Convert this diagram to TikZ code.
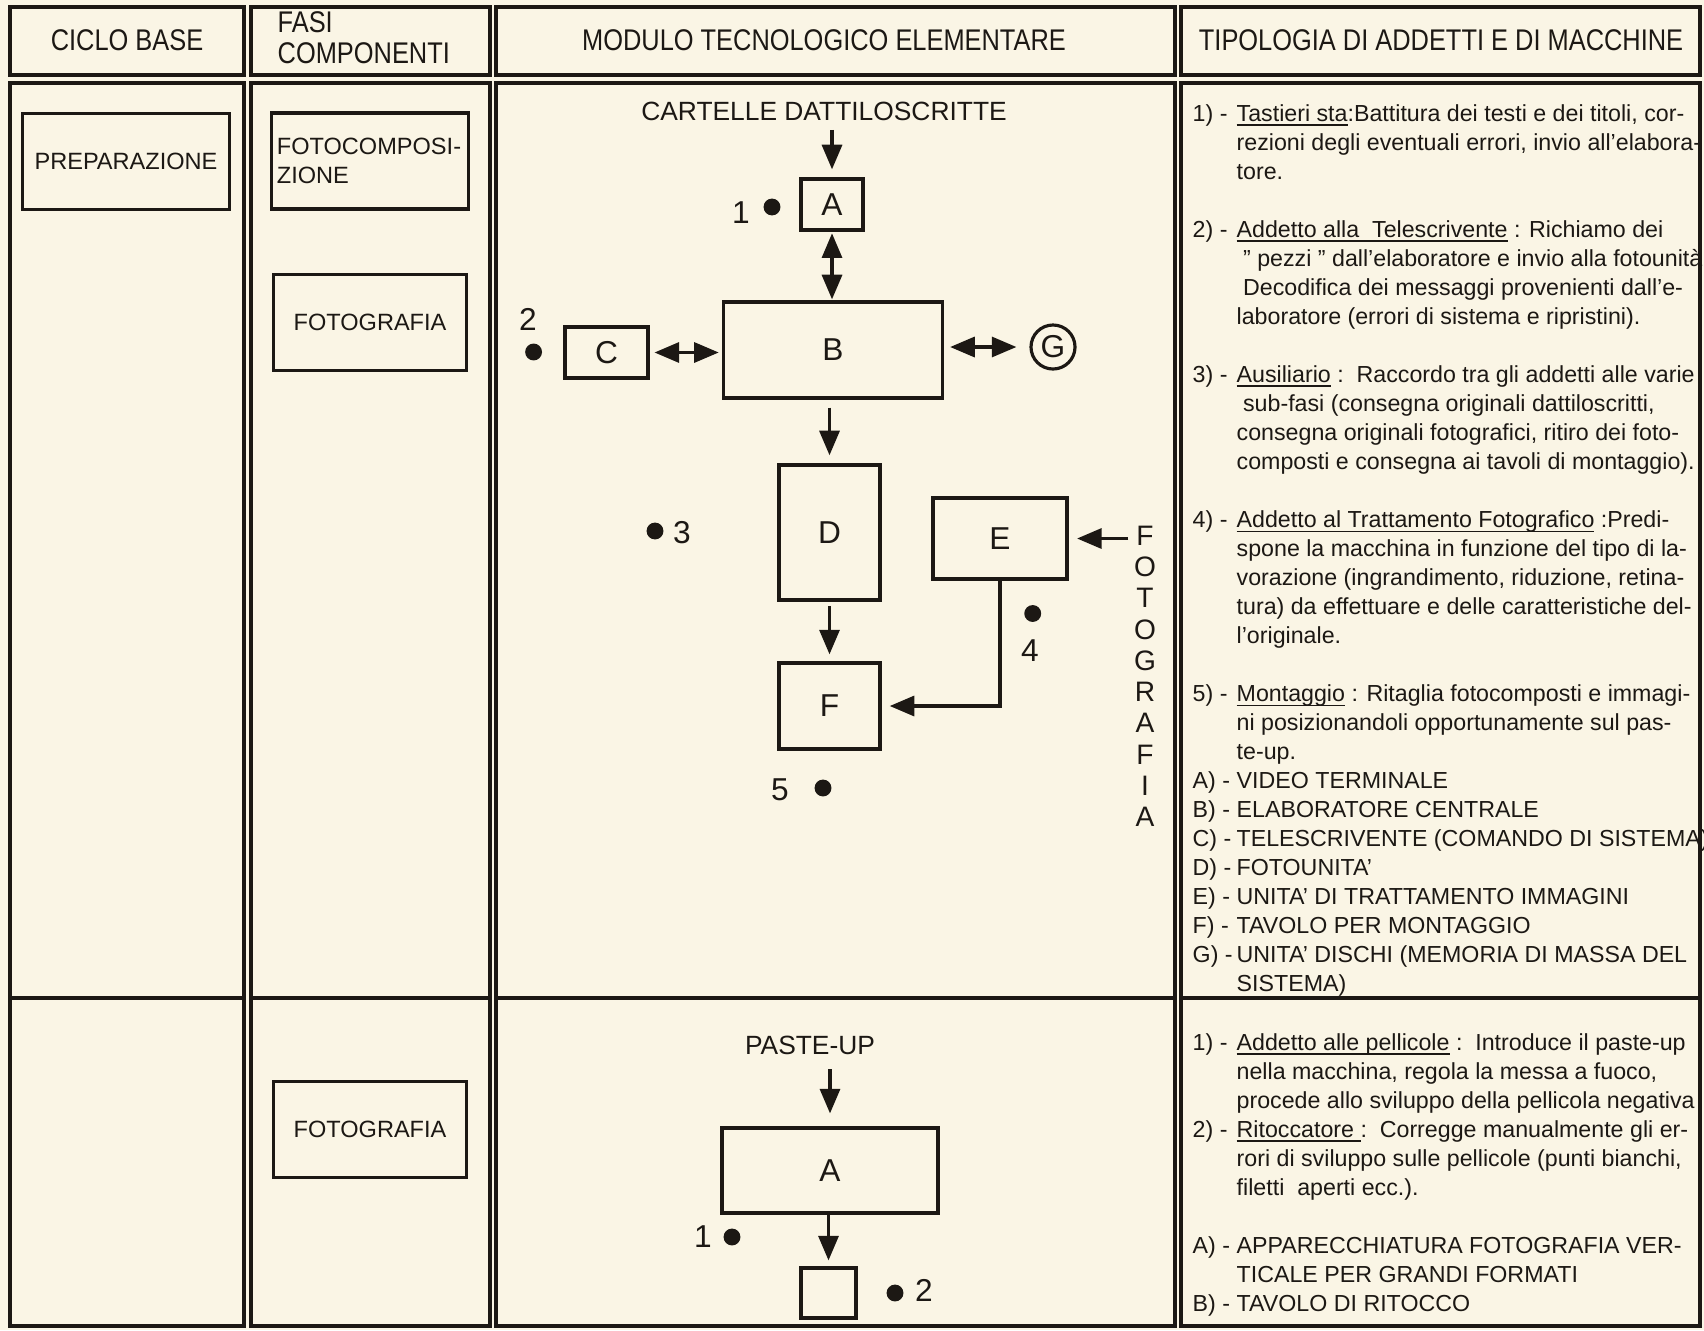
\documentclass[tikz,border=0pt]{standalone}
\usepackage{fontspec}
\setmainfont{Liberation Sans}
\usepackage{graphicx}
\usetikzlibrary{arrows.meta}
\definecolor{carta}{RGB}{250,245,229}
\definecolor{inchiostro}{RGB}{28,24,20}
\newcommand{\stretto}[1]{\scalebox{0.85}[1]{#1}}
\newcommand{\voce}[1]{\makebox[12.5pt][l]{#1}}
\newsavebox{\sottbox}
\newcommand{\sott}[1]{\sbox{\sottbox}{#1}\rlap{\rule[-1.4pt]{\wd\sottbox}{0.45pt}}\usebox{\sottbox}}
\tikzset{
  telaio/.style={draw=inchiostro,line width=0.9pt},
  intest/.style={font=\fontsize{8.5}{8.9}\selectfont,text=inchiostro,inner sep=0pt},
  fase/.style={draw=inchiostro,line width=0.9pt,minimum width=1.93cm,minimum height=0.96cm,font=\fontsize{6.7}{8.2}\selectfont,text=inchiostro},
  blocco/.style={draw=inchiostro,line width=0.9pt,font=\fontsize{9}{10}\selectfont,text=inchiostro,inner sep=0pt},
  freccia/.style={draw=inchiostro,line width=0.9pt,-{Triangle[length=7pt,width=5.7pt]}},
  doppia/.style={draw=inchiostro,line width=0.9pt,{Triangle[length=7pt,width=5.7pt]}-{Triangle[length=7pt,width=5.7pt]}},
  punto/.style={circle,fill=inchiostro,inner sep=0pt,minimum size=4.8pt},
  cifra/.style={font=\fontsize{9}{10}\selectfont,text=inchiostro,inner sep=0pt},
  etich/.style={font=\fontsize{7.5}{9}\selectfont,text=inchiostro,inner sep=0pt},
  lettera/.style={font=\fontsize{8}{9}\selectfont,text=inchiostro,inner sep=0pt},
  testo/.style={anchor=base west,inner sep=0pt,font=\fontsize{6.6}{8.25}\selectfont,text=inchiostro}
}

\begin{document}
\begin{tikzpicture}[x=0.01cm,y=-0.01cm]
  \useasboundingbox (0,0) rectangle (1704,1330);
  \fill[carta] (0,0) rectangle (1704,1330);
  \foreach \a/\b in {10/244,251/490,496/1175,1181/1700}{
    \draw[telaio] (\a,7) rectangle (\b,75); \draw[telaio] (\a,83) rectangle (\b,1326); \draw[telaio] (\a,998) -- (\b,998);
  }
  \node[intest] (hciclo) at (127,40) {\stretto{CICLO BASE}};
  \node[intest,align=left,anchor=west] (hfasi) at (277,38) {\stretto{FASI}\\\stretto{COMPONENTI}};
  \node[intest] (hmodulo) at (824,40) {\stretto{MODULO TECNOLOGICO ELEMENTARE}};
  \node[intest] (htipo) at (1441,40) {\stretto{TIPOLOGIA DI ADDETTI E DI MACCHINE}};

  \node[fase] (prep) at (126,161.5) {PREPARAZIONE};
  \node[fase,align=left,inner xsep=1.5pt,text width=1.86cm] (fotocomp) at (370,161) {FOTOCOMPOSI-\\ZIONE};
  \node[fase] (foto1) at (370,322.5) {FOTOGRAFIA};
  \node[fase] (foto2) at (370,1129.5) {FOTOGRAFIA};

  \node[etich] (cartelle) at (824,111) {CARTELLE DATTILOSCRITTE};
  \node[blocco,minimum width=0.62cm,minimum height=0.51cm] (A) at (832,204.5) {A};
  \node[blocco,minimum width=2.19cm,minimum height=0.96cm] (B) at (833,350) {B};
  \node[blocco,minimum width=0.83cm,minimum height=0.51cm] (C) at (606.5,352.5) {C};
  \node[blocco,circle,minimum size=0.44cm] (G) at (1053,347) {G};
  \node[blocco,minimum width=1.01cm,minimum height=1.35cm] (D) at (829.5,532.5) {D};
  \node[blocco,minimum width=1.34cm,minimum height=0.81cm] (E) at (1000,538.5) {E};
  \node[blocco,minimum width=1.01cm,minimum height=0.86cm] (F) at (829.5,706) {F};
  \draw[freccia,shorten <=2.5pt,shorten >=2.3pt] (cartelle.south -| A.north) -- (A.north);
  \draw[doppia,shorten <=0.5pt,shorten >=0.3pt] (A.south) -- (A.south |- B.north);
  \draw[doppia,shorten <=1.4pt,shorten >=0.9pt] (C.east) -- (C.east -| B.west);
  \draw[doppia,shorten <=1.7pt,shorten >=3.7pt] (B.east |- G.west) -- (G.west);
  \draw[freccia,shorten <=2.3pt,shorten >=2.3pt] (D.north |- B.south) -- (D.north);
  \draw[freccia,shorten <=1.2pt,shorten >=2pt] (D.south) -- (F.north);
  \draw[freccia,shorten >=2.3pt] (E.south) |- (F.east);
  \foreach \c [count=\i] in {F,O,T,O,G,R,A,F,I,A}
    \node[lettera] (l\i) at (1145,{504.2+31.3*\i}) {\c};
  \draw[freccia,shorten <=2.1pt,shorten >=2.4pt] (l1.west |- E.east) -- (E.east);
  \node[punto] (p1) at (772,207) {}; \node[cifra] (n1) at (741,213) {1};
  \node[punto] (p2) at (533.6,352) {}; \node[cifra] (n2) at (528,319) {2};
  \node[punto] (p3) at (655,531) {}; \node[cifra] (n3) at (682,533) {3};
  \node[punto] (p4) at (1032.7,613.5) {}; \node[cifra] (n4) at (1030,650.5) {4};
  \node[punto] (p5) at (823,788) {}; \node[cifra] (n5) at (780,790) {5};

  \node[etich] (pasteup) at (810,1045) {PASTE-UP};
  \node[blocco,minimum width=2.16cm,minimum height=0.85cm] (A2) at (830,1170.5) {A};
  \node[blocco,minimum width=0.55cm,minimum height=0.5cm] (B2) at (828.5,1293) {};
  \draw[freccia,shorten <=4pt,shorten >=3.7pt] (pasteup.south -| A2.north) -- (A2.north);
  \draw[freccia,shorten >=1.7pt] (A2.south -| B2.north) -- (B2.north);
  \node[punto] (q1) at (732,1237) {}; \node[cifra] (m1) at (703,1237) {1};
  \node[punto] (q2) at (895,1293) {}; \node[cifra] (m2) at (924,1290) {2};

  \node[testo] (voci) at (1192,121) {\begin{tabular}[t]{@{}l@{}}
    \voce{1) -}\sott{Tastieri sta}:Battitura dei testi e dei titoli, cor-\\
    \voce{}rezioni degli eventuali errori, invio all'elabora-\\
    \voce{}tore.\\
    \\
    \voce{2) -}\sott{Addetto alla\ \ Telescrivente}\ : Richiamo dei\\
    \voce{}\ " pezzi " dall'elaboratore e invio alla fotounità\\
    \voce{}\ Decodifica dei messaggi provenienti dall'e-\\
    \voce{}laboratore (errori di sistema e ripristini).\\
    \\
    \voce{3) -}\sott{Ausiliario}\ :\ \ Raccordo tra gli addetti alle varie\\
    \voce{}\ sub-fasi (consegna originali dattiloscritti,\\
    \voce{}consegna originali fotografici, ritiro dei foto-\\
    \voce{}composti e consegna ai tavoli di montaggio).\\
    \\
    \voce{4) -}\sott{Addetto al Trattamento Fotografico}\ :Predi-\\
    \voce{}spone la macchina in funzione del tipo di la-\\
    \voce{}vorazione (ingrandimento, riduzione, retina-\\
    \voce{}tura) da effettuare e delle caratteristiche del-\\
    \voce{}l'originale.\\
    \\
    \voce{5) -}\sott{Montaggio}\ : Ritaglia fotocomposti e immagi-\\
    \voce{}ni posizionandoli opportunamente sul pas-\\
    \voce{}te-up.\\
    \voce{A) -}VIDEO TERMINALE\\
    \voce{B) -}ELABORATORE CENTRALE\\
    \voce{C) -}TELESCRIVENTE (COMANDO DI SISTEMA)\\
    \voce{D) -}FOTOUNITA'\\
    \voce{E) -}UNITA' DI TRATTAMENTO IMMAGINI\\
    \voce{F) -}TAVOLO PER MONTAGGIO\\
    \voce{G) -}UNITA' DISCHI (MEMORIA DI MASSA DEL\\
    \voce{}SISTEMA)
  \end{tabular}};
  \node[testo] (voci2) at (1192,1050) {\begin{tabular}[t]{@{}l@{}}
    \voce{1) -}\sott{Addetto alle pellicole}\ :\ \ Introduce il paste-up\\
    \voce{}nella macchina, regola la messa a fuoco,\\
    \voce{}procede allo sviluppo della pellicola negativa\\
    \voce{2) -}\sott{Ritoccatore\ }:\ \ Corregge manualmente gli er-\\
    \voce{}rori di sviluppo sulle pellicole (punti bianchi,\\
    \voce{}filetti\ \ aperti ecc.).\\
    \\
    \voce{A) -}APPARECCHIATURA FOTOGRAFIA VER-\\
    \voce{}TICALE PER GRANDI FORMATI\\
    \voce{B) -}TAVOLO DI RITOCCO
  \end{tabular}};
\end{tikzpicture}
\end{document}
